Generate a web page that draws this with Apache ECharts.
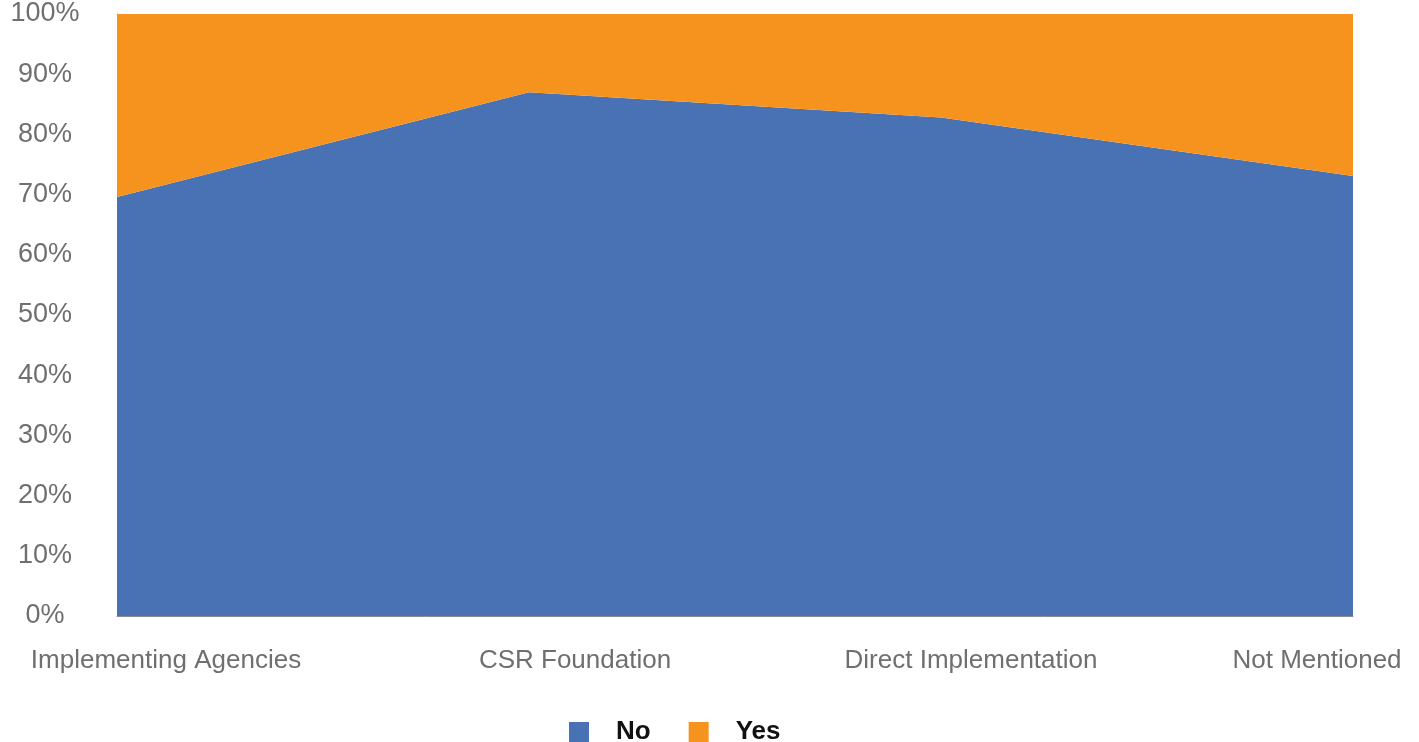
<!DOCTYPE html>
<html>
<head>
<meta charset="utf-8">
<script src="https://cdn.jsdelivr.net/npm/echarts@6/dist/echarts.min.js"></script>
<style>
  html, body { margin: 0; padding: 0; background: #ffffff; }
  #chart { width: 1419px; height: 742px; }
</style>
</head>
<body>
<div id="chart"></div>
<script>
// ---- data ----
const categories = ["Implementing Agencies", "CSR Foundation", "Direct Implementation", "Not Mentioned"];
const noValues  = [69.6, 87.0, 82.8, 73.1];
const yesValues = [30.4, 13.0, 17.2, 26.9];
const seriesNames = ["No", "Yes"];
const yTickValues = [0, 10, 20, 30, 40, 50, 60, 70, 80, 90, 100];

// ---- styles ----
const FONT = "'Liberation Sans', Arial, Helvetica, sans-serif";
const labelPads = [[0, 0, 0, 98], [0, 0, 0, 92], [0, 0, 0, 60], [0, 72, 0, 0]];
const rich = {};
labelPads.forEach((p, i) => {
  rich['c' + i] = { padding: p, fontSize: 26, color: '#6f6f6f', fontFamily: FONT };
});

const chart = echarts.init(document.getElementById('chart'), null, { renderer: 'canvas' });
chart.setOption({
  animation: false,
  backgroundColor: '#ffffff',
  color: ['#4872B4', '#F6931E'],
  grid: { left: 117, right: 66, top: 14, bottom: 126, containLabel: false },
  legend: {
    data: seriesNames,
    left: 569,
    top: 719,
    padding: 0,
    icon: 'rect',
    itemWidth: 20,
    itemHeight: 20,
    itemGap: 38,
    textStyle: { fontSize: 26, fontWeight: 'bold', color: '#111111', fontFamily: FONT, padding: [0, 0, 0, 22] }
  },
  xAxis: {
    type: 'category',
    data: categories,
    boundaryGap: false,
    axisLine: { show: true, lineStyle: { color: '#8c8c8c', width: 1 } },
    axisTick: { show: false },
    splitLine: { show: false },
    axisLabel: {
      interval: 0,
      margin: 32,
      fontSize: 26,
      color: '#6f6f6f',
      fontFamily: FONT,
      formatter: (v, i) => '{c' + i + '|' + v + '}',
      rich: rich
    }
  },
  yAxis: {
    type: 'value',
    min: 0,
    max: 100,
    interval: 10,
    axisLine: { show: true, lineStyle: { color: '#8c8c8c', width: 1 } },
    axisTick: { show: false },
    splitLine: { show: false },
    axisLabel: {
      align: 'center',
      margin: 72,
      fontSize: 27,
      color: '#6f6f6f',
      fontFamily: FONT,
      formatter: v => (yTickValues.includes(v) ? v + '%' : '')
    }
  },
  series: [
    {
      name: seriesNames[0],
      type: 'line',
      stack: 'total',
      data: noValues,
      symbol: 'none',
      lineStyle: { width: 0 },
      areaStyle: { color: '#4872B4', opacity: 1 }
    },
    {
      name: seriesNames[1],
      type: 'line',
      stack: 'total',
      data: yesValues,
      symbol: 'none',
      lineStyle: { width: 0 },
      areaStyle: { color: '#F6931E', opacity: 1 }
    }
  ]
});
</script>
</body>
</html>
